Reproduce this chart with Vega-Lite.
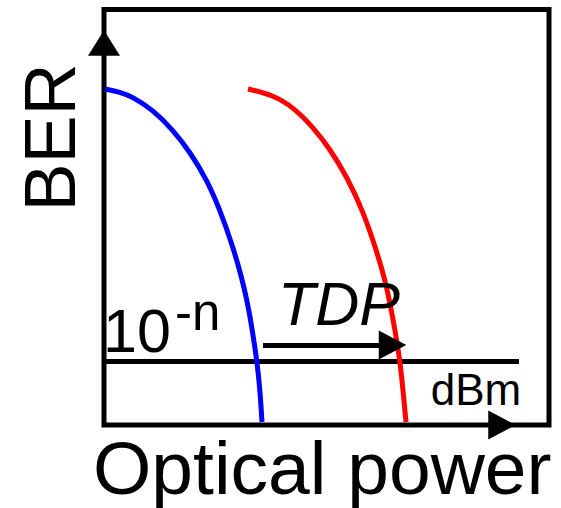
{
  "$schema": "https://vega.github.io/schema/vega-lite/v6.json",
  "width": 561,
  "height": 508,
  "padding": 0,
  "autosize": {"type": "none"},
  "background": "white",
  "config": {"view": {"stroke": null}, "font": "Liberation Sans"},
  "datasets": {
    "curves": [
      {"series": "blue", "x": 105, "y": 89}, {"series": "blue", "x": 120, "y": 92}, {"series": "blue", "x": 133, "y": 97},
      {"series": "blue", "x": 153, "y": 110}, {"series": "blue", "x": 173, "y": 130}, {"series": "blue", "x": 190, "y": 152},
      {"series": "blue", "x": 207, "y": 180}, {"series": "blue", "x": 220, "y": 210}, {"series": "blue", "x": 233, "y": 247},
      {"series": "blue", "x": 241, "y": 275}, {"series": "blue", "x": 247, "y": 300}, {"series": "blue", "x": 252, "y": 328},
      {"series": "blue", "x": 257, "y": 361}, {"series": "blue", "x": 260, "y": 390}, {"series": "blue", "x": 262, "y": 422},
      {"series": "red", "x": 248, "y": 89}, {"series": "red", "x": 273, "y": 95}, {"series": "red", "x": 293, "y": 107},
      {"series": "red", "x": 313, "y": 127}, {"series": "red", "x": 330, "y": 149}, {"series": "red", "x": 347, "y": 177},
      {"series": "red", "x": 363, "y": 211}, {"series": "red", "x": 377, "y": 252}, {"series": "red", "x": 385, "y": 280},
      {"series": "red", "x": 390, "y": 303}, {"series": "red", "x": 395, "y": 330}, {"series": "red", "x": 400, "y": 361},
      {"series": "red", "x": 403, "y": 390}, {"series": "red", "x": 406, "y": 422}
    ],
    "box": [{"x": 104, "x2": 549, "y": 9.5, "y2": 425}],
    "rules": [
      {"name": "threshold", "x": 103, "x2": 519, "y": 361.5},
      {"name": "tdp", "x": 263, "x2": 382, "y": 345.5}
    ],
    "up": [{"x": 104, "y": 43}],
    "right": [{"x": 502, "y": 425}, {"x": 392.5, "y": 345}]
  },
  "encoding": {
    "x": {"type": "quantitative", "scale": {"domain": [0, 561], "nice": false, "zero": false}, "axis": null},
    "y": {"type": "quantitative", "scale": {"domain": [0, 508], "nice": false, "zero": false, "reverse": true}, "axis": null}
  },
  "layer": [
    {
      "data": {"name": "box"},
      "mark": {"type": "rect", "fill": null, "stroke": "black", "strokeWidth": 5},
      "encoding": {"x": {"field": "x", "type": "quantitative"}, "x2": {"field": "x2"}, "y": {"field": "y", "type": "quantitative"}, "y2": {"field": "y2"}}
    },
    {
      "data": {"name": "rules"},
      "mark": {"type": "rule", "stroke": "black", "strokeWidth": 5, "strokeCap": "butt"},
      "encoding": {"x": {"field": "x", "type": "quantitative"}, "x2": {"field": "x2"}, "y": {"field": "y", "type": "quantitative"}}
    },
    {
      "data": {"name": "curves"},
      "mark": {"type": "line", "strokeWidth": 5, "interpolate": "basis", "strokeCap": "butt"},
      "encoding": {
        "x": {"field": "x", "type": "quantitative"},
        "y": {"field": "y", "type": "quantitative"},
        "color": {"field": "series", "type": "nominal", "scale": {"domain": ["blue", "red"], "range": ["#0000ff", "#ff0000"]}, "legend": null},
        "order": {"field": "y", "type": "quantitative"}
      }
    },
    {
      "data": {"name": "up"},
      "mark": {"type": "point", "shape": "M0,-0.8L-1,0.8L1,0.8Z", "size": 1024, "filled": true, "fill": "black", "opacity": 1, "strokeWidth": 0},
      "encoding": {"x": {"field": "x", "type": "quantitative"}, "y": {"field": "y", "type": "quantitative"}}
    },
    {
      "data": {"name": "right"},
      "mark": {"type": "point", "shape": "M-0.95,-1L0.95,0L-0.95,1Z", "size": 841, "filled": true, "fill": "black", "opacity": 1, "strokeWidth": 0},
      "encoding": {"x": {"field": "x", "type": "quantitative"}, "y": {"field": "y", "type": "quantitative"}}
    },
    {
      "data": {"values": [{"label": "BER", "x": 75, "y": 137.5}]},
      "mark": {"type": "text", "fontSize": 72, "angle": 270, "align": "center", "baseline": "alphabetic", "color": "black"},
      "encoding": {"x": {"field": "x", "type": "quantitative"}, "y": {"field": "y", "type": "quantitative"}, "text": {"field": "label"}}
    },
    {
      "data": {"values": [{"label": "Optical power", "x": 93, "y": 494}]},
      "mark": {"type": "text", "fontSize": 75, "align": "left", "baseline": "alphabetic", "color": "black"},
      "encoding": {"x": {"field": "x", "type": "quantitative"}, "y": {"field": "y", "type": "quantitative"}, "text": {"field": "label"}}
    },
    {
      "data": {"values": [{"label": "10", "x": 103, "y": 352}]},
      "mark": {"type": "text", "fontSize": 61, "align": "left", "baseline": "alphabetic", "color": "black"},
      "encoding": {"x": {"field": "x", "type": "quantitative"}, "y": {"field": "y", "type": "quantitative"}, "text": {"field": "label"}}
    },
    {
      "data": {"values": [{"label": "-n", "x": 175, "y": 330}]},
      "mark": {"type": "text", "fontSize": 51, "align": "left", "baseline": "alphabetic", "color": "black"},
      "encoding": {"x": {"field": "x", "type": "quantitative"}, "y": {"field": "y", "type": "quantitative"}, "text": {"field": "label"}}
    },
    {
      "data": {"values": [{"label": "TDP", "x": 278, "y": 325}]},
      "mark": {"type": "text", "fontSize": 61, "fontStyle": "italic", "align": "left", "baseline": "alphabetic", "color": "black"},
      "encoding": {"x": {"field": "x", "type": "quantitative"}, "y": {"field": "y", "type": "quantitative"}, "text": {"field": "label"}}
    },
    {
      "data": {"values": [{"label": "dBm", "x": 476, "y": 405}]},
      "mark": {"type": "text", "fontSize": 44, "align": "center", "baseline": "alphabetic", "color": "black"},
      "encoding": {"x": {"field": "x", "type": "quantitative"}, "y": {"field": "y", "type": "quantitative"}, "text": {"field": "label"}}
    }
  ]
}
